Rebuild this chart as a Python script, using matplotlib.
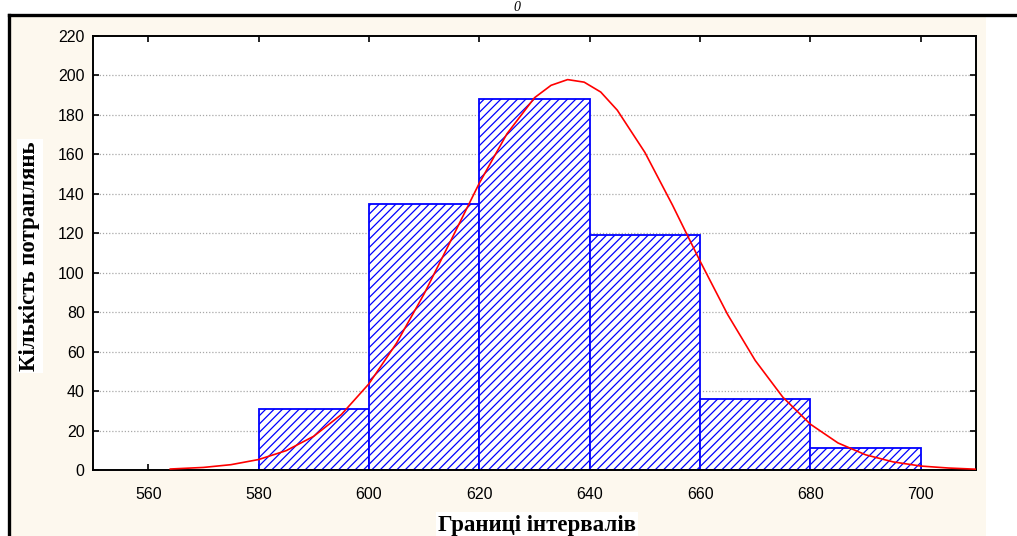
#!/usr/bin/env python3
"""Histogram of hit counts per interval with the fitted normal curve."""
import matplotlib

matplotlib.use("Agg")
import matplotlib.pyplot as plt
from matplotlib.lines import Line2D
from matplotlib.patches import Rectangle

# interval left edges and counts (bin width 20)
bin_left = [580, 600, 620, 640, 660, 680]
counts = [31, 135, 188, 119, 36, 11]
BIN_W = 20

# expected-normal curve
curve_x = [564, 570, 575, 580, 585, 590, 595, 600, 605, 610, 615, 620, 625,
           630, 633, 636, 639, 642, 645, 650, 655, 660, 665, 670, 675, 680,
           685, 690, 695, 700, 705, 710]
curve_y = [0.5, 1.3, 2.7, 5.3, 9.8, 17.1, 28.1, 43.7, 64.3, 89.3, 117.2,
           145.4, 170.4, 188.7, 195.0, 197.9, 196.6, 191.6, 182.4, 161.0,
           134.3, 105.9, 78.8, 55.5, 36.9, 23.2, 13.7, 7.7, 4.1, 2.0, 1.0,
           0.4]

x_ticks = [560, 580, 600, 620, 640, 660, 680, 700]
y_ticks = list(range(0, 221, 20))

W, H = 1017, 536
plt.rcParams["hatch.linewidth"] = 0.9
fig = plt.figure(figsize=(W / 100, H / 100), dpi=100)
fig.patch.set_facecolor("white")

# cream panel and page rules
fig.add_artist(Rectangle((10 / W, 0), 976 / W, 1 - 17 / H,
                         transform=fig.transFigure, facecolor="#fdf8ee",
                         edgecolor="none", zorder=0))
fig.add_artist(Line2D([9 / W, 1], [1 - 15 / H, 1 - 15 / H],
                      transform=fig.transFigure, color="black", lw=2.4))
fig.add_artist(Line2D([9 / W, 9 / W], [0, 1 - 15 / H],
                      transform=fig.transFigure, color="black", lw=2.4))
fig.text(517 / W, 1 - 1 / H, "0", family="Liberation Serif", style="italic",
         fontsize=10, ha="center", va="top")

ax = fig.add_axes([93 / W, 1 - 470 / H, (976 - 93) / W, (470 - 36) / H])
ax.set_facecolor("white")

ax.bar(bin_left, counts, width=BIN_W, align="edge", facecolor="white",
       edgecolor="blue", hatch="////", linewidth=1.3, zorder=2)
ax.plot(curve_x, curve_y, color="red", lw=1.2, zorder=3)

ax.set_xlim(550, 710)
ax.set_ylim(0, 220)
ax.set_xticks(x_ticks)
ax.set_yticks(y_ticks)
for y in y_ticks[1:-1]:
    ax.axhline(y, color="#a8a8a8", lw=0.9, ls=(0, (1, 1.5)), zorder=1)

for s in ax.spines.values():
    s.set_linewidth(1.4)
ax.tick_params(direction="in", length=4, width=1.2, top=True, right=True,
               labelsize=11.5)
ax.tick_params(axis="x", pad=12)
ax.tick_params(axis="y", pad=6)
for lab in ax.get_xticklabels() + ax.get_yticklabels():
    lab.set_family("Liberation Sans")

bbox = dict(facecolor="white", edgecolor="none", pad=1.5)
fig.text(537 / W, 1 - 525 / H, "Границі інтервалів", family="Liberation Serif",
         fontweight="bold", fontsize=16.5, ha="center", va="center", bbox=bbox)
fig.text(30 / W, 1 - 256 / H, "Кількість потраплянь", family="Liberation Serif",
         fontweight="bold", fontsize=16.5, rotation=90, ha="center",
         va="center", bbox=bbox)

fig.savefig("out.png", dpi=100)
plt.close(fig)
